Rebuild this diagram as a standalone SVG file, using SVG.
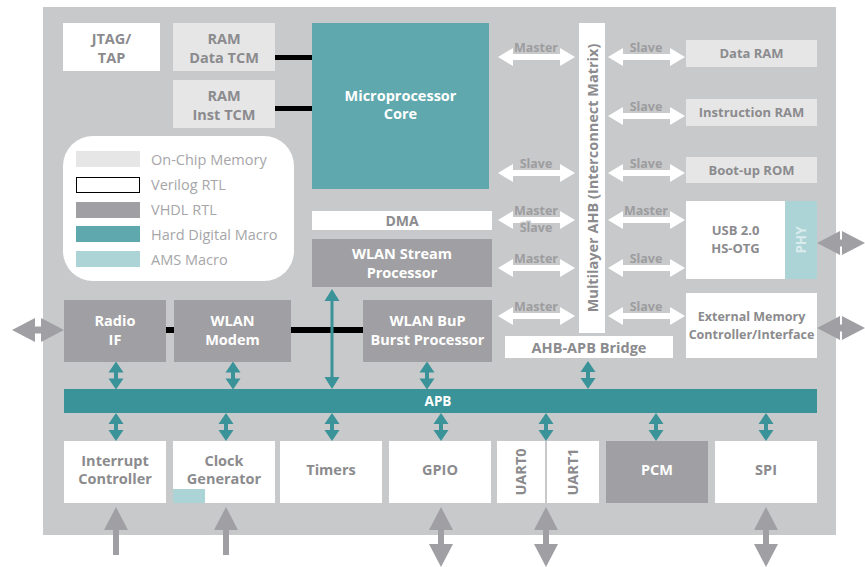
<svg xmlns="http://www.w3.org/2000/svg" width="865" height="567" viewBox="0 0 865 567">
  <style>
    .t { font-family: "Open Sans", "Noto Sans", "Liberation Sans", sans-serif; font-weight: bold; text-anchor: middle; }
    .dk { fill: #8b8b8e; }
    .wt { fill: #ffffff; }
    .lbl { font-size: 12.5px; fill: #9d9da0; stroke: #c8c9ca; stroke-width: 3px; paint-order: stroke; }
    .leg { font-family: "Open Sans", "Noto Sans", "Liberation Sans", sans-serif; font-size: 14.5px; fill: #a6a6a9; }
    .mem { fill: #e6e6e7; }
    .ver { fill: #ffffff; }
    .vhdl { fill: #a09fa3; }
    .hard { fill: #5fa8ae; }
    .ams { fill: #acd4d6; }
    .bus { fill: #3a9399; }
    .ext { fill: #a09fa3; }
    .hw { fill: #ffffff; }
    .blk { fill: #000000; }
  </style>
  <defs>
    <!-- horizontal white double arrow, 77 wide, centred on origin -->
    <path id="harrow" d="M-38.5 0 L-23.5 -9 L-23.5 -3 L23.5 -3 L23.5 -9 L38.5 0 L23.5 9 L23.5 3 L-23.5 3 L-23.5 9 Z"/>
    <!-- small teal vertical double arrow on the APB -->
    <path id="varrow" d="M0 -14 L7.5 -3 L2 -3 L2 3 L7.5 3 L0 14 L-7.5 3 L-2 3 L-2 -3 L-7.5 -3 Z"/>
  </defs>

  <!-- chip outline -->
  <rect x="43" y="7" width="793" height="528" fill="#c8c9ca"/>

  <!-- connectors -->
  <g id="connectors">
    <!-- TCM links -->
    <rect class="blk" x="275" y="55" width="37" height="5"/>
    <rect class="blk" x="275" y="106" width="37" height="5"/>
    <!-- radio / modem / BuP link -->
    <rect class="blk" x="166" y="327" width="8" height="6"/>
    <rect class="blk" x="291" y="327" width="72" height="6"/>

    <!-- AHB master/slave arrows -->
    <g class="hw">
      <use href="#harrow" x="536.5" y="57"/>
      <use href="#harrow" x="536.5" y="173"/>
      <use href="#harrow" x="536.5" y="220"/>
      <use href="#harrow" x="536.5" y="268"/>
      <use href="#harrow" x="536.5" y="316"/>
      <use href="#harrow" x="646.5" y="57"/>
      <use href="#harrow" x="646.5" y="116"/>
      <use href="#harrow" x="646.5" y="173"/>
      <use href="#harrow" x="646.5" y="220"/>
      <use href="#harrow" x="646.5" y="268"/>
      <use href="#harrow" x="646.5" y="316"/>
    </g>
    <g class="t lbl">
      <text x="536" y="52">Master</text>
      <text x="536" y="168">Slave</text>
      <text x="536" y="215">Master</text>
      <text x="536" y="232">Slave</text>
      <text x="536" y="263">Master</text>
      <text x="536" y="311">Master</text>
      <text x="646" y="52">Slave</text>
      <text x="646" y="111">Slave</text>
      <text x="646" y="168">Slave</text>
      <text x="646" y="215">Master</text>
      <text x="646" y="263">Slave</text>
      <text x="646" y="311">Slave</text>
    </g>

    <!-- APB taps -->
    <g class="bus">
      <use href="#varrow" x="116" y="375.5"/>
      <use href="#varrow" x="233" y="375.5"/>
      <use href="#varrow" x="427" y="375.5"/>
      <use href="#varrow" x="588" y="375"/>
      <use href="#varrow" x="116" y="427"/>
      <use href="#varrow" x="226" y="427"/>
      <use href="#varrow" x="332" y="427"/>
      <use href="#varrow" x="441" y="427"/>
      <use href="#varrow" x="546" y="427"/>
      <use href="#varrow" x="656" y="427"/>
      <use href="#varrow" x="766" y="427"/>
      <!-- stream processor to APB -->
      <path d="M332 289 L339.5 301 L333.5 301 L333.5 377 L339.5 377 L332 389 L324.5 377 L330.5 377 L330.5 301 L324.5 301 Z"/>
    </g>

    <!-- off-chip signals -->
    <g class="ext">
      <!-- radio -->
      <path d="M12 330 L35 318 L35 326.5 L41 326.5 L41 318 L64 330 L41 342 L41 333.5 L35 333.5 L35 342 Z"/>
      <!-- USB PHY -->
      <path d="M817 243 L840 231 L840 239.5 L842 239.5 L842 231 L865 243 L842 255 L842 246.5 L840 246.5 L840 255 Z"/>
      <!-- external memory -->
      <path d="M817 328 L840 316 L840 324.5 L842 324.5 L842 316 L865 328 L842 340 L842 331.5 L840 331.5 L840 340 Z"/>
      <!-- interrupt and clock inputs -->
      <path d="M116 507 L128 530 L119 530 L119 555 L113 555 L113 530 L104 530 Z"/>
      <path d="M226 507 L238 530 L229 530 L229 555 L223 555 L223 530 L214 530 Z"/>
      <!-- GPIO, UART, SPI -->
      <path d="M441 507 L453 530 L444 530 L444 544 L453 544 L441 567 L429 544 L438 544 L438 530 L429 530 Z"/>
      <path d="M546 507 L558 530 L549 530 L549 544 L558 544 L546 567 L534 544 L543 544 L543 530 L534 530 Z"/>
      <path d="M766 507 L778 530 L769 530 L769 544 L778 544 L766 567 L754 544 L763 544 L763 530 L754 530 Z"/>
    </g>
  </g>

  <!-- top-left blocks -->
  <g id="jtag">
    <rect class="ver" x="63" y="23" width="97" height="48"/>
    <text class="t dk" x="111.5" y="44" font-size="14.5">JTAG/</text>
    <text class="t dk" x="111.5" y="63" font-size="14.5">TAP</text>
  </g>
  <g id="ram-data-tcm">
    <rect class="mem" x="173" y="23" width="102" height="48"/>
    <text class="t dk" x="224" y="44" font-size="14.5">RAM</text>
    <text class="t dk" x="224" y="63" font-size="14.5">Data TCM</text>
  </g>
  <g id="ram-inst-tcm">
    <rect class="mem" x="173" y="80" width="102" height="48"/>
    <text class="t dk" x="224" y="101" font-size="14.5">RAM</text>
    <text class="t dk" x="224" y="120" font-size="14.5">Inst TCM</text>
  </g>
  <g id="core">
    <rect class="hard" x="312" y="23" width="177" height="166"/>
    <text class="t wt" x="400.5" y="101" font-size="14.5">Microprocessor</text>
    <text class="t wt" x="400.5" y="119" font-size="14.5">Core</text>
  </g>

  <!-- legend -->
  <g id="legend">
    <rect x="63" y="136" width="231" height="145" rx="30" fill="#ffffff"/>
    <rect class="mem" x="76" y="151" width="64" height="16"/>
    <rect x="76.5" y="177.5" width="63" height="15" fill="#ffffff" stroke="#000000" stroke-width="1"/>
    <rect class="vhdl" x="76" y="202" width="64" height="16"/>
    <rect class="hard" x="76" y="226" width="64" height="16"/>
    <rect class="ams" x="76" y="251" width="64" height="16"/>
    <text class="leg" x="151" y="165">On-Chip Memory</text>
    <text class="leg" x="151" y="190">Verilog RTL</text>
    <text class="leg" x="151" y="215">VHDL RTL</text>
    <text class="leg" x="151" y="240">Hard Digital Macro</text>
    <text class="leg" x="151" y="265">AMS Macro</text>
  </g>

  <!-- WLAN blocks -->
  <g id="dma">
    <rect class="ver" x="312" y="211" width="180" height="19"/>
    <text class="t dk" x="402" y="225.5" font-size="14">DMA</text>
  </g>
  <g id="wlan-stream">
    <rect class="vhdl" x="312" y="239" width="180" height="48"/>
    <text class="t wt" x="402" y="259" font-size="14.5">WLAN Stream</text>
    <text class="t wt" x="402" y="278" font-size="14.5">Processor</text>
  </g>
  <g id="radio-if">
    <rect class="vhdl" x="64" y="300" width="102" height="62"/>
    <text class="t wt" x="115" y="326" font-size="14.5">Radio</text>
    <text class="t wt" x="115" y="345" font-size="14.5">IF</text>
  </g>
  <g id="wlan-modem">
    <rect class="vhdl" x="174" y="300" width="117" height="62"/>
    <text class="t wt" x="232.5" y="326" font-size="14.5">WLAN</text>
    <text class="t wt" x="232.5" y="345" font-size="14.5">Modem</text>
  </g>
  <g id="wlan-bup">
    <rect class="vhdl" x="363" y="300" width="129" height="62"/>
    <text class="t wt" x="427.5" y="326" font-size="14.5">WLAN BuP</text>
    <text class="t wt" x="427.5" y="345" font-size="14.5">Burst Processor</text>
  </g>

  <!-- AHB matrix and bridge -->
  <g id="ahb">
    <rect class="ver" x="579" y="23" width="26" height="310"/>
    <text class="t dk" transform="translate(597.5 178) rotate(-90)" font-size="14.5">Multilayer AHB (Interconnect Matrix)</text>
  </g>
  <g id="ahb-apb-bridge">
    <rect class="ver" x="505" y="336" width="168" height="22"/>
    <text class="t dk" x="589" y="352.5" font-size="14.5">AHB-APB Bridge</text>
  </g>

  <!-- AHB slaves -->
  <g id="data-ram">
    <rect class="mem" x="686" y="40" width="131" height="27"/>
    <text class="t dk" x="751.5" y="58" font-size="13">Data RAM</text>
  </g>
  <g id="instruction-ram">
    <rect class="mem" x="686" y="99" width="131" height="27"/>
    <text class="t dk" x="751.5" y="117" font-size="13">Instruction RAM</text>
  </g>
  <g id="bootup-rom">
    <rect class="mem" x="686" y="157" width="131" height="26"/>
    <text class="t dk" x="751.5" y="175" font-size="13">Boot-up ROM</text>
  </g>
  <g id="usb">
    <rect class="ver" x="686" y="201" width="99" height="78"/>
    <rect class="ams" x="785" y="201" width="32" height="78"/>
    <text class="t dk" x="735.5" y="235" font-size="13">USB 2.0</text>
    <text class="t dk" x="735.5" y="253" font-size="13">HS-OTG</text>
    <text class="t" fill="#ffffff" opacity="0.55" transform="translate(806 240) rotate(-90)" font-size="13.5">PHY</text>
  </g>
  <g id="ext-mem">
    <rect class="ver" x="686" y="293" width="131" height="65"/>
    <text class="t dk" x="751.5" y="321" font-size="12.5">External Memory</text>
    <text class="t dk" x="751.5" y="339" font-size="12.5">Controller/Interface</text>
  </g>

  <!-- APB bus -->
  <g id="apb">
    <rect class="bus" x="64" y="389" width="753" height="24"/>
    <text class="t wt" x="438" y="406" font-size="13.5">APB</text>
  </g>

  <!-- APB peripherals -->
  <g id="interrupt">
    <rect class="ver" x="64" y="441" width="102" height="62"/>
    <text class="t dk" x="115" y="466" font-size="14.5">Interrupt</text>
    <text class="t dk" x="115" y="484" font-size="14.5">Controller</text>
  </g>
  <g id="clock">
    <rect class="ver" x="173" y="441" width="102" height="62"/>
    <rect class="ams" x="173" y="489" width="32" height="14"/>
    <text class="t dk" x="224" y="466" font-size="14.5">Clock</text>
    <text class="t dk" x="224" y="484" font-size="14.5">Generator</text>
  </g>
  <g id="timers">
    <rect class="ver" x="280" y="441" width="102" height="62"/>
    <text class="t dk" x="331" y="475" font-size="14.5">Timers</text>
  </g>
  <g id="gpio">
    <rect class="ver" x="389" y="441" width="102" height="62"/>
    <text class="t dk" x="440" y="475" font-size="14.5">GPIO</text>
  </g>
  <g id="uart0">
    <rect class="ver" x="497" y="441" width="48" height="62"/>
    <text class="t dk" transform="translate(526 472) rotate(-90)" font-size="14.5">UART0</text>
  </g>
  <g id="uart1">
    <rect class="ver" x="547" y="441" width="52" height="62"/>
    <text class="t dk" transform="translate(578 472) rotate(-90)" font-size="14.5">UART1</text>
  </g>
  <g id="pcm">
    <rect class="vhdl" x="606" y="441" width="102" height="62"/>
    <text class="t wt" x="657" y="475" font-size="14.5">PCM</text>
  </g>
  <g id="spi">
    <rect class="ver" x="715" y="441" width="102" height="62"/>
    <text class="t dk" x="766" y="475" font-size="14.5">SPI</text>
  </g>
</svg>
